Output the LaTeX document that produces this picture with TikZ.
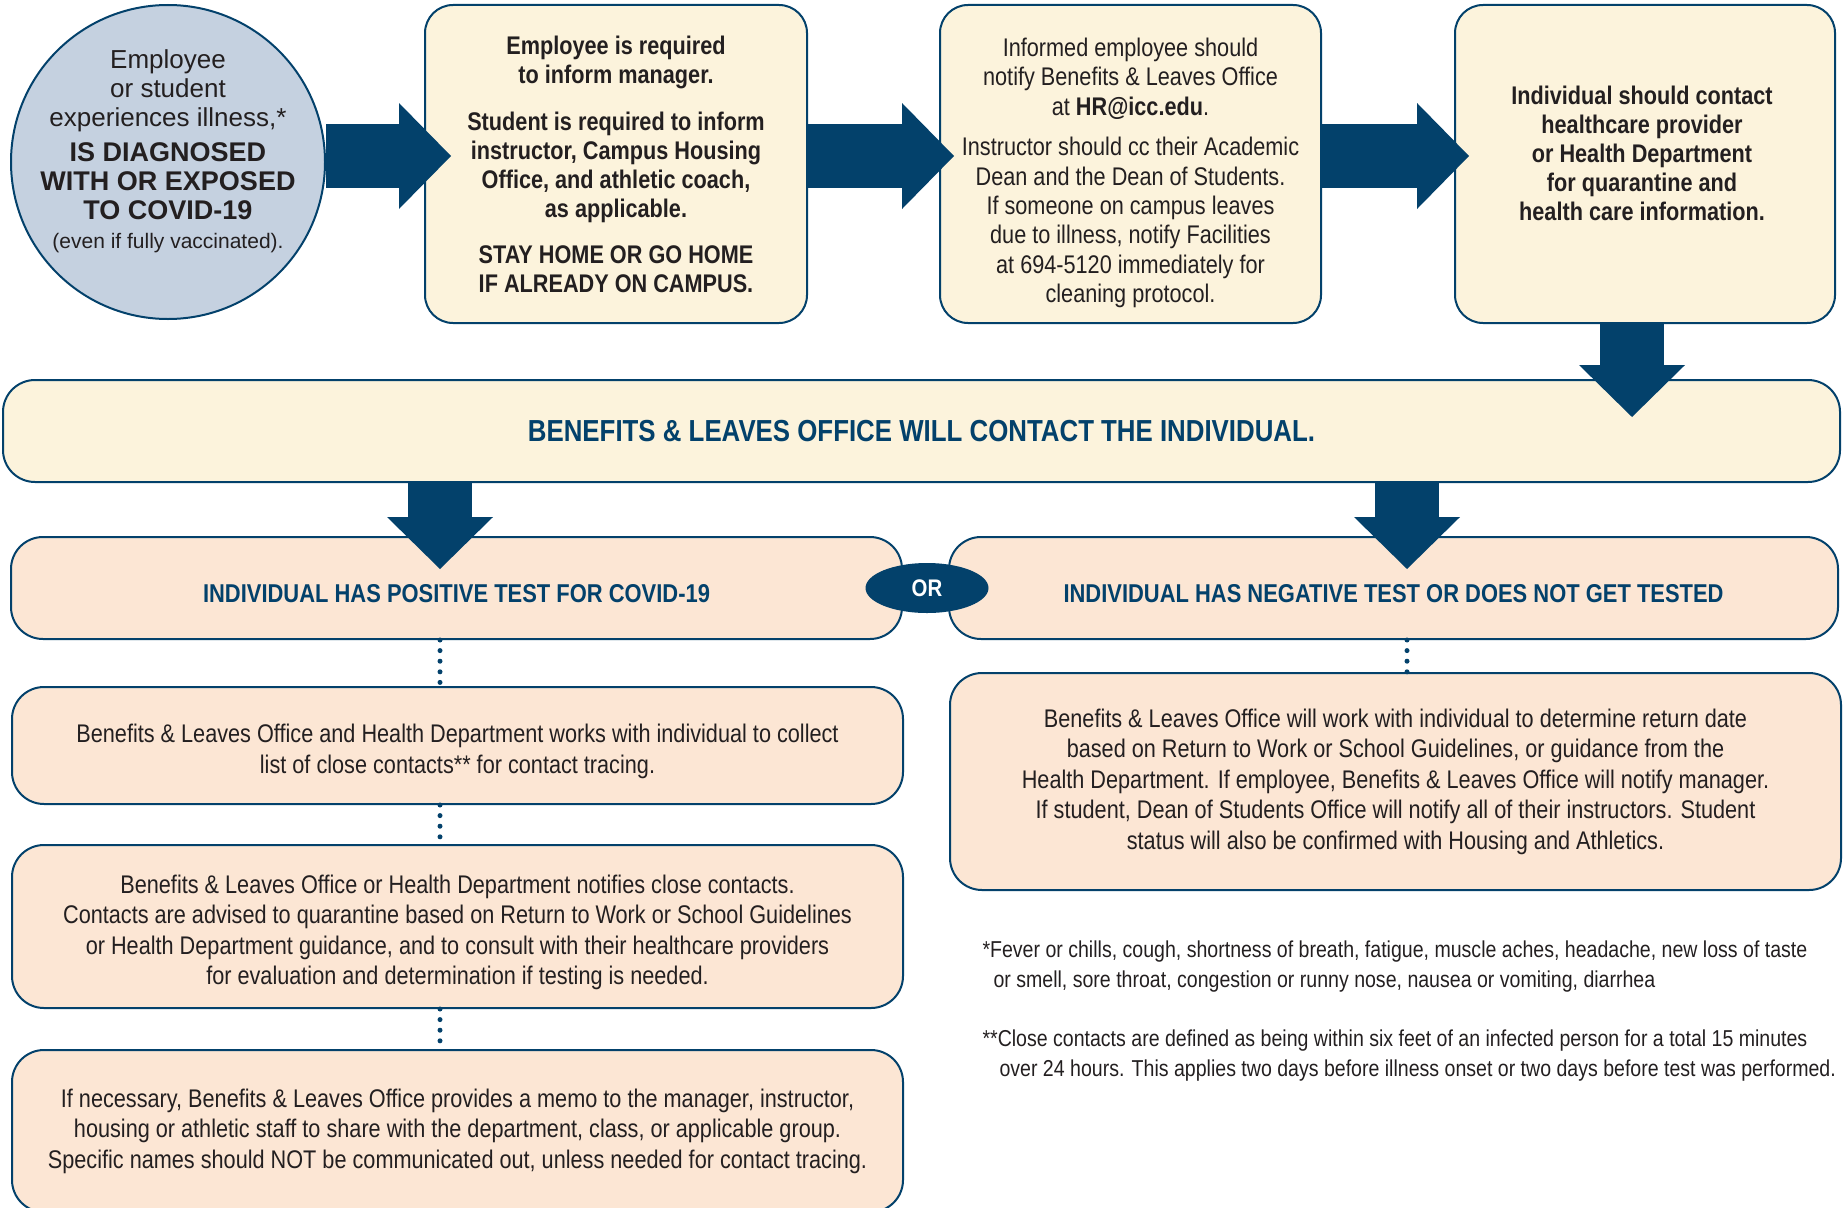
\documentclass[tikz,border=0pt]{standalone}
\usepackage{fontspec}
\setmainfont{Liberation Sans}
\newfontfamily\condfont[FakeStretch=0.85]{Liberation Sans}
\usetikzlibrary{arrows.meta,shapes.geometric,calc}
\definecolor{navy}{RGB}{3,65,107}
\definecolor{cream}{RGB}{252,243,220}
\definecolor{peach}{RGB}{252,230,212}
\definecolor{mist}{RGB}{197,209,224}
\definecolor{ink}{RGB}{35,31,32}
\tikzset{
  box/.style={draw=navy,line width=2pt,rounded corners=28pt,inner sep=0pt,align=center,text=ink},
  creambox/.style={box,fill=cream,minimum width=381pt,minimum height=318pt},
  peachbox/.style={box,fill=peach,rounded corners=32pt,minimum width=891pt,font=\condfont\fontsize{25.5}{30.5}\selectfont},
  body/.style={align=center,text=ink,font=\condfont\fontsize{25.5}{29.4}\selectfont},
  head/.style={text=navy,text height=30pt,font=\condfont\bfseries\fontsize{25.8}{30}\selectfont},
  note/.style={align=left,anchor=base west,text=ink,font=\condfont\fontsize{23}{29.5}\selectfont},
  bigarrow/.style={navy,line width=64pt,-{Triangle[length=52pt,width=106pt,line width=0pt]}},
  dots/.style={navy,line width=5pt,line cap=round,dash pattern=on 0pt off 10.6pt}
}
\begin{document}
\begin{tikzpicture}[x=1pt,y=-1pt,line join=miter]
\useasboundingbox (0,0) rectangle (1843,1207);
\path (440,0)coordinate(lcol) (1407,0)coordinate(rcol) (1632,0)coordinate(tcol);
\node[circle,draw=navy,line width=2pt,fill=mist,minimum size=314pt,inner sep=0pt] (circ) at (168,162) {};
\node[align=center,text=ink,font=\fontsize{26}{29}\selectfont] (circtxt) at ($(circ)+(0,-10.5)$)
  {Employee\\ or student\\ experiences illness,*\\[6pt]
   {\bfseries\fontsize{27}{29}\selectfont IS DIAGNOSED}\\
   {\bfseries\fontsize{27}{29}\selectfont WITH OR EXPOSED}\\
   {\bfseries\fontsize{27}{29}\selectfont TO COVID-19}\\
   {\fontsize{21}{29}\selectfont (even if fully vaccinated).}};
\node[creambox,minimum width=382pt,font=\condfont\bfseries\fontsize{25.5}{29}\selectfont] (b2) at (616,164)
  {Employee is required\\ to inform manager.\\[18pt]
   Student is required to inform\\ instructor, Campus Housing\\ Office, and athletic coach,\\ as applicable.\\[17pt]
   STAY HOME OR GO HOME\\ IF ALREADY ON CAMPUS.};
\node[creambox] (b3) at (1130.5,164) {};
\node[body] (b3txt) at ($(b3)+(0,9)$)
  {Informed employee should\\ notify Benefits \& Leaves Office\\ at {\bfseries HR@icc.edu}.\\[11pt]
   Instructor should cc their Academic\\ Dean and the Dean of Students.\\ If someone on campus leaves\\
   due to illness, notify Facilities\\ at 694-5120 immediately for\\ cleaning protocol.};
\node[creambox,minimum width=380pt] (b4) at (1645,164) {};
\node[body,font=\condfont\bfseries\fontsize{25.5}{29}\selectfont] (b4txt) at ($(b4)+(-3,-11)$)
  {Individual should contact\\ healthcare provider\\ or Health Department\\ for quarantine and\\ health care information.};
\node[box,fill=cream,rounded corners=32pt,minimum width=1837pt,minimum height=102pt,
  text=navy,font=\condfont\bfseries\fontsize{30.4}{34}\selectfont] (banner) at (921.5,431)
  {BENEFITS \& LEAVES OFFICE WILL CONTACT THE INDIVIDUAL.};
\node[peachbox,head,minimum height=102pt] (pos) at (456.5,588) {INDIVIDUAL HAS POSITIVE TEST FOR COVID-19};
\node[peachbox,head,minimum width=889pt,minimum height=102pt] (neg) at (1393.5,588) {INDIVIDUAL HAS NEGATIVE TEST OR DOES NOT GET TESTED};
\node[peachbox,minimum height=117pt] (coll) at (457.5,745.5) {};
\node[body,font=\condfont\fontsize{25.5}{30.5}\selectfont] (colltxt) at ($(coll)+(0,6)$)
  {Benefits \& Leaves Office and Health Department works with individual to collect\\ list of close contacts** for contact tracing.};
\node[peachbox,minimum height=163pt] (noti) at (457.5,926.5) {};
\node[body,font=\condfont\fontsize{25.5}{30.5}\selectfont] (notitxt) at ($(noti)+(0,6)$)
  {Benefits \& Leaves Office or Health Department notifies close contacts.\\
   Contacts are advised to quarantine based on Return to Work or School Guidelines\\
   or Health Department guidance, and to consult with their healthcare providers\\
   for evaluation and determination if testing is needed.};
\node[peachbox,minimum height=162pt] (memo) at (457.5,1131)
  {If necessary, Benefits \& Leaves Office provides a memo to the manager, instructor,\\
   housing or athletic staff to share with the department, class, or applicable group.\\
   Specific names should NOT be communicated out, unless needed for contact tracing.};
\node[peachbox,minimum height=217pt] (ret) at (1395.5,781.5)
  {Benefits \& Leaves Office will work with individual to determine return date\\
   based on Return to Work or School Guidelines, or guidance from the\\
   Health Department. If employee, Benefits \& Leaves Office will notify manager.\\
   If student, Dean of Students Office will notify all of their instructors. Student\\
   status will also be confirmed with Housing and Athletics.};
\node[note] (fn1) at (979,987)
  {*Fever or chills, cough, shortness of breath, fatigue, muscle aches, headache, new loss of taste\\
   \hspace*{11pt}or smell, sore throat, congestion or runny nose, nausea or vomiting, diarrhea};
\node[note] (fn2) at (979,1076)
  {**Close contacts are defined as being within six feet of an infected person for a total 15 minutes\\
   \hspace*{17pt}over 24 hours. This applies two days before illness onset or two days before test was performed.};
\draw[bigarrow] ([yshift=6pt]circ.east) -- ($(b2.west)+(27,-8)$);
\draw[bigarrow] ($(b2.east)+(0,-8)$) -- ($(b3.west)+(15,-8)$);
\draw[bigarrow] ($(b3.east)+(0,-8)$) -- ($(b4.west)+(15,-8)$);
\draw[bigarrow] (b4.south -| tcol) -- ($(banner.north -| tcol)+(0,38)$);
\draw[bigarrow] (banner.south -| lcol) -- ($(pos.north -| lcol)+(0,33)$);
\draw[bigarrow] (banner.south -| rcol) -- ($(neg.north -| rcol)+(0,33)$);
\draw[dots] (pos.south -| lcol) -- (coll.north -| lcol);
\draw[dots] (coll.south -| lcol) -- (noti.north -| lcol);
\draw[dots] (noti.south -| lcol) -- (memo.north -| lcol);
\draw[dots] (neg.south -| rcol) -- (ret.north -| rcol);
\node[ellipse,fill=navy,minimum width=123pt,minimum height=50pt,inner sep=0pt,text=white,
  font=\condfont\bfseries\fontsize{24}{28}\selectfont] (orr) at (927,588) {OR};
\end{tikzpicture}
\end{document}
